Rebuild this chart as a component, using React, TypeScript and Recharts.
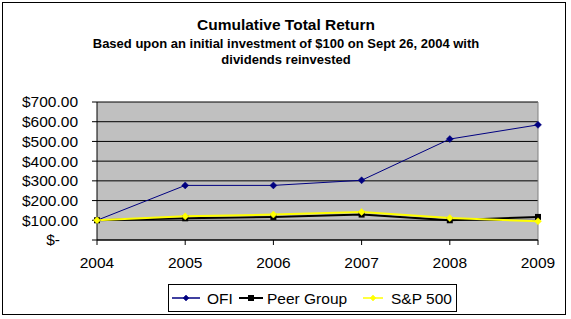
import React from 'react';
import {
  LineChart,
  Line,
  XAxis,
  YAxis,
  CartesianGrid,
  ReferenceLine,
} from 'recharts';

const years = ['2004', '2005', '2006', '2007', '2008', '2009'];
const ofi = [100, 277, 277, 303, 512, 584];
const peerGroup = [100, 110, 117, 129, 100, 117];
const sp500 = [100, 120, 129, 142, 111, 95];
const yTicks = [0, 100, 200, 300, 400, 500, 600, 700];

const data = years.map((year, i) => ({
  year,
  ofi: ofi[i],
  peer: peerGroup[i],
  sp: sp500[i],
}));

const FONT = '"Liberation Sans", Arial, sans-serif';

const Diamond = ({ cx, cy, fill, r = 3.5 }: any) => (
  <polygon
    points={`${cx},${cy - r} ${cx + r},${cy} ${cx},${cy + r} ${cx - r},${cy}`}
    fill={fill}
    stroke={fill}
    strokeWidth={0.5}
  />
);

const Square = ({ cx, cy, fill, r = 3 }: any) => (
  <rect x={cx - r} y={cy - r} width={r * 2} height={r * 2} fill={fill} />
);

const YTick = ({ x, y, payload }: any) => {
  const v = payload.value;
  const label = v === 0 ? '$-' : `$${v.toFixed(2)}`;
  return (
    <text
      x={v === 0 ? x - 18 : x}
      y={y}
      dy="0.35em"
      textAnchor="end"
      fontFamily={FONT}
      fontSize={15.5}
      fill="#000"
    >
      {label}
    </text>
  );
};

const XTick = ({ x, y, payload }: any) => (
  <text x={x} y={y + 21} textAnchor="middle" fontFamily={FONT} fontSize={15.5} fill="#000">
    {payload.value}
  </text>
);

// legend entries: line start, line length, text start (relative to legend box)
const legendItems = [
  { label: 'OFI', color: '#000080', shape: 'diamond', x: 4, len: 28, tx: 39 },
  { label: 'Peer Group', color: '#000000', shape: 'square', x: 71, len: 24, tx: 99 },
  { label: 'S&P 500', color: '#FFFF00', shape: 'diamond', x: 195, len: 20, tx: 223 },
];

const LegendBox = () => (
  <g transform="translate(168,284)">
    <rect x={0.5} y={0.5} width={288} height={27} fill="#fff" stroke="#000" />
    {legendItems.map((it) => (
      <g key={it.label}>
        <line
          x1={it.x}
          x2={it.x + it.len}
          y1={14}
          y2={14}
          stroke={it.color}
          strokeWidth={it.shape === 'square' ? 2 : 1.5}
        />
        {it.shape === 'square' ? (
          <Square cx={it.x + it.len / 2} cy={14} fill={it.color} />
        ) : (
          <Diamond cx={it.x + it.len / 2} cy={14} fill={it.color} r={3} />
        )}
        <text x={it.tx} y={19.5} fontFamily={FONT} fontSize={15.5} fill="#000">
          {it.label}
        </text>
      </g>
    ))}
  </g>
);

export default function App() {
  return (
    <div style={{ position: 'absolute', left: 0, top: 0, width: 571, height: 319, background: '#fff' }}>
      <svg width={571} height={319} style={{ position: 'absolute', left: 0, top: 0 }}>
        <rect x={2.5} y={2.5} width={563} height={312} fill="#fff" stroke="#000" />
        <text x={286} y={30} textAnchor="middle" fontFamily={FONT} fontSize={15.5} fontWeight="bold">
          Cumulative Total Return
        </text>
        <text x={286} y={48} textAnchor="middle" fontFamily={FONT} fontSize={13} fontWeight="bold">
          Based upon an initial investment of $100 on Sept 26, 2004 with
        </text>
        <text x={286} y={63.5} textAnchor="middle" fontFamily={FONT} fontSize={13} fontWeight="bold">
          dividends reinvested
        </text>
        <LegendBox />
      </svg>
      <div style={{ position: 'absolute', left: 0, top: 0 }}>
        <LineChart
          width={571}
          height={319}
          data={data}
          margin={{ top: 102, right: 33, bottom: 49, left: 7 }}
        >
          <CartesianGrid
            vertical={false}
            fill="#C0C0C0"
            fillOpacity={1}
            stroke="#000"
            strokeOpacity={1}
          />
          <XAxis
            dataKey="year"
            height={30}
            tickSize={5}
            tickMargin={2}
            axisLine={{ stroke: '#000' }}
            tickLine={{ stroke: '#000' }}
            tick={<XTick />}
            interval={0}
          />
          <YAxis
            width={90}
            domain={[0, 700]}
            ticks={yTicks}
            tickSize={5}
            tickMargin={14}
            axisLine={{ stroke: '#000' }}
            tickLine={{ stroke: '#000' }}
            tick={<YTick />}
            interval={0}
          />
          <ReferenceLine x="2009" stroke="#808080" />
          <Line
            dataKey="ofi"
            name="OFI"
            type="linear"
            stroke="#000080"
            strokeWidth={1}
            dot={(p: any) => <Diamond key={`o${p.index}`} cx={p.cx} cy={p.cy} fill="#000080" />}
            isAnimationActive={false}
          />
          <Line
            dataKey="peer"
            name="Peer Group"
            type="linear"
            stroke="#000"
            strokeWidth={2}
            dot={(p: any) => <Square key={`p${p.index}`} cx={p.cx} cy={p.cy} fill="#000" />}
            isAnimationActive={false}
          />
          <Line
            dataKey="sp"
            name="S&P 500"
            type="linear"
            stroke="#FFFF00"
            strokeWidth={2}
            dot={(p: any) => <Diamond key={`s${p.index}`} cx={p.cx} cy={p.cy} fill="#FFFF00" />}
            isAnimationActive={false}
          />
        </LineChart>
      </div>
    </div>
  );
}
